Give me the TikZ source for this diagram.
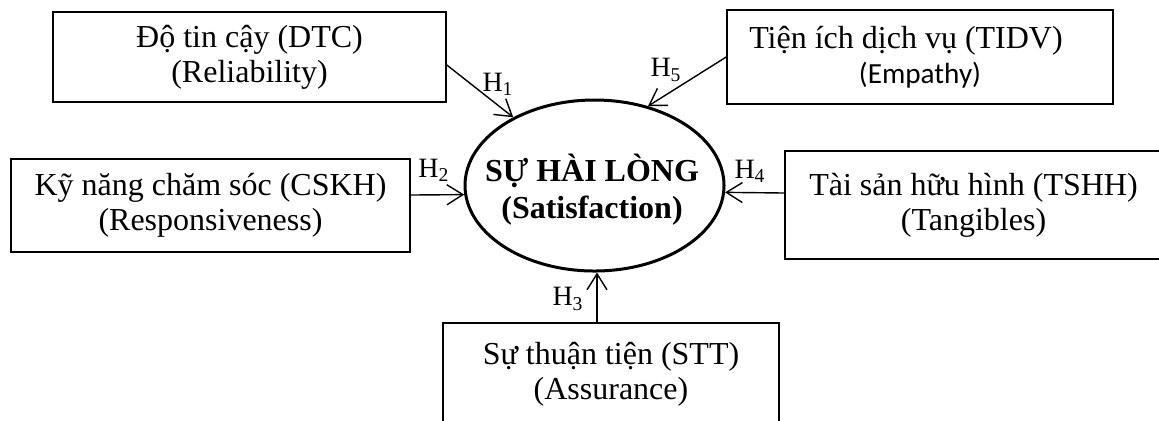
\documentclass[tikz,border=0pt]{standalone}
\usepackage{fontspec}
\setmainfont{Liberation Serif}
\newfontfamily\calibri{Carlito}
\usetikzlibrary{shapes.geometric,arrows.meta}
\begin{document}
\begin{tikzpicture}[x=0.5pt,y=-0.5pt,
  box/.style={draw, line width=0.8pt, inner sep=0pt, align=center,
    font=\fontsize{16}{17.5}\selectfont},
  core/.style={draw, ellipse, line width=1.5pt, inner sep=0pt,
    minimum width=129.5pt, minimum height=85.5pt},
  coretext/.style={inner sep=0pt, align=center,
    font=\fontsize{16}{18.5}\selectfont\bfseries},
  arr/.style={line width=0.7pt, -{Straight Barb[length=8pt,width=10pt]}},
  hlab/.style={font=\fontsize{14}{14}\selectfont, inner sep=0pt}]
\useasboundingbox (0,0) rectangle (1159,420);
\clip (0,0) rectangle (1159,420);

\node[box, minimum width=196.5pt, minimum height=45pt] (dtc) at (249.5,57)
  {Độ tin cậy (DTC)\\(Reliability)};
\node[box, minimum width=193pt, minimum height=47pt] (tidv) at (920,57)
  {Tiện ích dịch vụ (TIDV)\hspace*{14pt}\\{\calibri\fontsize{14.6}{17.5}\selectfont (Empathy)}};
\node[box, minimum width=199.5pt, minimum height=46.5pt] (cskh) at (210.5,205.5)
  {Kỹ năng chăm sóc (CSKH)\\(Responsiveness)};
\node[box, minimum width=188.5pt, minimum height=54pt] (tshh) at (973.5,205)
  {Tài sản hữu hình (TSHH)\\(Tangibles)};
\node[box, minimum width=168pt, minimum height=51pt] (stt) at (611,374)
  {Sự thuận tiện (STT)\\(Assurance)};

\node[core] (sat) at (594.5,185.5) {};
\node[coretext] (sattext) at (592,190) {SỰ HÀI LÒNG\\(Satisfaction)};

\draw[arr] ([yshift=-4pt]dtc.east) -- (sat.140);
\draw[arr] (tidv.west) -- (sat.56);
\draw[arr] ([yshift=5.25pt]cskh.east) -- (sat.184);
\draw[arr] ([yshift=6pt]tshh.west) -- (sat.-3);
\draw[arr] ([xshift=-7pt]stt.north) -- ([xshift=-7pt]stt.north |- sat.south);

\node[hlab] (h1) at (498,84) {H\textsubscript{1}};
\node[hlab] (h5) at (666,70) {H\textsubscript{5}};
\node[hlab] (h2) at (434,170) {H\textsubscript{2}};
\node[hlab] (h4) at (750,171) {H\textsubscript{4}};
\node[hlab] (h3) at (568,299) {H\textsubscript{3}};
\end{tikzpicture}
\end{document}
